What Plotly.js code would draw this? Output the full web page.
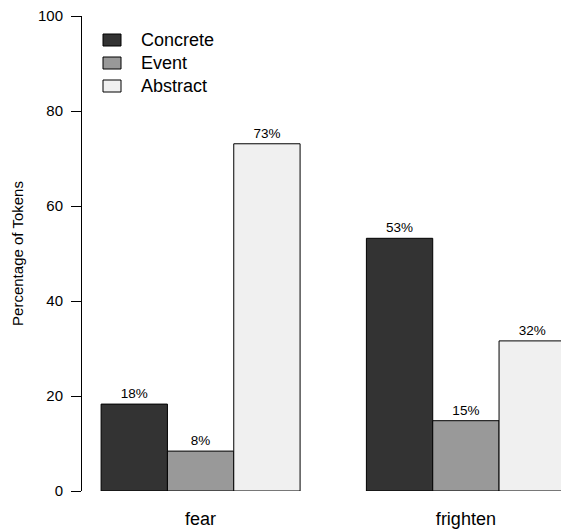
<!DOCTYPE html>
<html>
<head>
<meta charset="utf-8">
<script src="https://cdn.plot.ly/plotly-3.0.1.min.js"></script>
<style>html,body{margin:0;padding:0;background:#fff;}#chart{width:561px;height:529px;}</style>
</head>
<body>
<div id="chart"></div>
<script>
var categories = ['fear', 'frighten'];
var seriesNames = ['Concrete', 'Event', 'Abstract'];
var concrete = [18.3, 53.2];
var eventVals = [8.4, 14.8];
var abstractVals = [73.1, 31.6];
var concreteLabels = ['18%', '53%'];
var eventLabels = ['8%', '15%'];
var abstractLabels = ['73%', '32%'];
var yTicks = [0, 20, 40, 60, 80, 100];
var colors = ['#333333', '#999999', '#f0f0f0'];

var seriesValues = [concrete, eventVals, abstractVals];
var seriesLabels = [concreteLabels, eventLabels, abstractLabels];
var font = 'Liberation Sans, Arial, Helvetica, sans-serif';

var W = 561, H = 529;
var M = {l: 82, r: 0, t: 16, b: 38};
var plotW = W - M.l - M.r, plotH = H - M.t - M.b;
function px2x(px) { return (px - M.l) / plotW; }
function px2y(py) { return (H - M.b - py) / plotH; }

var traces = seriesNames.map(function (name, i) {
  return {
    type: 'bar',
    name: name,
    x: categories,
    y: seriesValues[i],
    text: seriesLabels[i],
    textposition: 'outside',
    textfont: {family: font, size: 13.5, color: '#000'},
    cliponaxis: false,
    marker: {color: colors[i], line: {color: '#000', width: 1}},
    hoverinfo: 'skip'
  };
});

// Legend drawn like R's legend(): box + label per series
var shapes = [];
var annotations = [];
var legendTop = 34, legendStep = 23;
seriesNames.forEach(function (name, i) {
  var cy = legendTop + 6 + i * legendStep;
  shapes.push({
    type: 'rect', xref: 'paper', yref: 'paper',
    x0: px2x(103), x1: px2x(121), y0: px2y(cy - 6), y1: px2y(cy + 6),
    fillcolor: colors[i], line: {color: '#000', width: 1}
  });
  annotations.push({
    xref: 'paper', yref: 'paper', x: px2x(139), y: px2y(cy),
    xanchor: 'left', yanchor: 'middle', showarrow: false,
    text: name, font: {family: font, size: 18, color: '#000'}
  });
});

var layout = {
  width: W,
  height: H,
  margin: {l: M.l, r: M.r, t: M.t, b: M.b, pad: 0},
  paper_bgcolor: '#fff',
  plot_bgcolor: '#fff',
  font: {family: font, color: '#000', size: 15},
  barmode: 'group',
  bargap: 0.25,
  bargroupgap: 0,
  showlegend: false,
  shapes: shapes,
  annotations: annotations,
  xaxis: {
    type: 'category',
    range: [-0.447, 1.3585],
    showline: false,
    showgrid: false,
    zeroline: false,
    ticks: '',
    tickfont: {family: font, size: 18, color: '#000'},
    ticklabelstandoff: 15
  },
  yaxis: {
    range: [0, 100],
    tickvals: yTicks,
    ticktext: yTicks.map(String),
    showline: true,
    linecolor: '#000',
    linewidth: 1,
    ticks: 'outside',
    ticklen: 10,
    tickcolor: '#000',
    tickwidth: 1,
    showgrid: false,
    zeroline: false,
    tickfont: {family: font, size: 15, color: '#000'},
    ticklabelstandoff: 5,
    title: {text: 'Percentage of Tokens', font: {family: font, size: 15, color: '#000'}, standoff: 10}
  }
};

Plotly.newPlot('chart', traces, layout, {staticPlot: true, displayModeBar: false});
</script>
</body>
</html>
